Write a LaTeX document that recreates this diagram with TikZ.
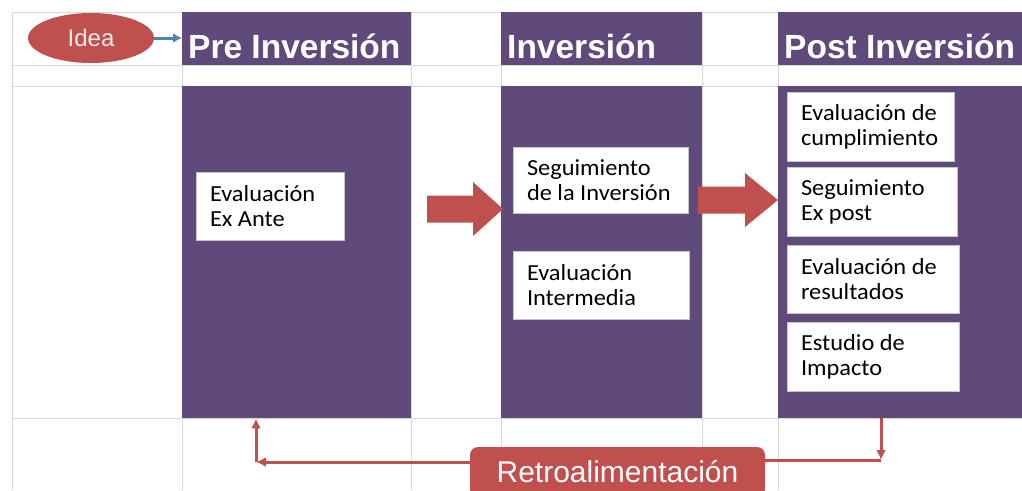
\documentclass[tikz,border=0pt]{standalone}
\usepackage{fontspec}
\setmainfont{Liberation Sans}
\newfontfamily\calibri[FakeStretch=1.06]{Carlito}
\usetikzlibrary{shapes.geometric,arrows.meta,positioning}
\definecolor{morado}{HTML}{604A7B}
\definecolor{rojo}{HTML}{C0504D}
\definecolor{azul}{HTML}{4F81BD}
\definecolor{rejilla}{HTML}{D9D9D9}

\begin{document}
\begin{tikzpicture}[x=1pt,y=-1pt,
  cabecera/.style={fill=morado,text=white,anchor=north west,align=flush left,inner xsep=6pt,inner ysep=0pt,
    text height=46pt,text depth=7pt,font=\bfseries\fontsize{33.5}{40}\selectfont},
  cuerpo/.style={fill=morado,anchor=north west,inner sep=0pt,minimum height=332pt},
  etapa/.style={draw=gray!45,fill=white,line width=1pt,align=flush left,inner xsep=14pt,inner ysep=0pt,
    font=\calibri\fontsize{23}{25}\selectfont},
  retro/.style={rojo,line width=3pt,-{Latex[length=10pt,width=10pt]}}]
  \useasboundingbox (0,0) rectangle (1022,490);
  \foreach \x in {12,182,411,501,702,778}
    \draw[rejilla,line width=1pt] (\x,12) -- (\x,490);
  \foreach \y in {12,65,86,418}
    \draw[rejilla,line width=1pt] (12,\y) -- (1022,\y);

  \node[cabecera,text width=217pt] (prehead) at (182,12) {Pre Inversión};
  \node[cabecera,text width=189pt] (invhead) at (501,12) {Inversión};
  \node[cabecera,text width=240pt] (posthead) at (778,12) {Post Inversión};
  \node[cuerpo,minimum width=229pt] (precuerpo) at (182,86) {};
  \node[cuerpo,minimum width=201pt] (invcuerpo) at (501,86) {};
  \node[cuerpo,minimum width=252pt] (postcuerpo) at (778,86) {};

  \node[ellipse,fill=rojo,text=white!92!black,minimum width=126pt,minimum height=50pt,
    font=\fontsize{24}{28}\selectfont] (idea) at (91,38) {Idea};
  \draw[azul,line width=3pt,-{Latex[length=9pt,width=10pt]}] (idea.east) -- (idea.east -| prehead.west);

  \node[etapa,text width=120pt,minimum height=68pt] (exante) at (270,206) {Evaluación\\Ex Ante};
  \node[etapa,text width=147pt,minimum height=66pt] (seguim) at (600.5,180) {Seguimiento\\de la Inversión};
  \node[etapa,text width=148pt,minimum height=68pt] (intermedia) at (601,285) {Evaluación\\Intermedia};
  \node[etapa,text width=139pt,minimum height=69pt] (cumplim) at (870.5,127) {Evaluación de\\cumplimiento};
  \node[etapa,text width=142pt,minimum height=69pt] (expost) at (872,202) {Seguimiento\\Ex post};
  \node[etapa,text width=144pt,minimum height=68pt] (resultados) at (873,279) {Evaluación de\\resultados};
  \node[etapa,text width=144pt,minimum height=69pt] (impacto) at (873,357) {Estudio de\\Impacto};

  \foreach \xa/\xb/\xc/\yc in {427/473/503/209,698/745/778/200}
    \fill[rojo] (\xa,\yc-13.5) -- (\xb,\yc-13.5) -- (\xb,\yc-27) -- (\xc,\yc)
      -- (\xb,\yc+27) -- (\xb,\yc+13.5) -- (\xa,\yc+13.5) -- cycle;

  \node[fill=rojo,text=white,rounded corners=8pt,minimum width=295pt,minimum height=50pt,
    inner ysep=0pt,text height=23pt,text depth=2pt,font=\fontsize{30}{34}\selectfont]
    (retro) at (617.5,472) {Retroalimentación};
  \coordinate (izq) at (256,462);
  \coordinate (der) at (881,460);
  \draw[retro] (retro.west |- izq) -- (izq);
  \draw[retro] (izq) -- (precuerpo.south -| izq);
  \draw[rojo,line width=3pt] (retro.east |- der) -- (der);
  \draw[retro] (postcuerpo.south -| der) -- (der);
\end{tikzpicture}
\end{document}
